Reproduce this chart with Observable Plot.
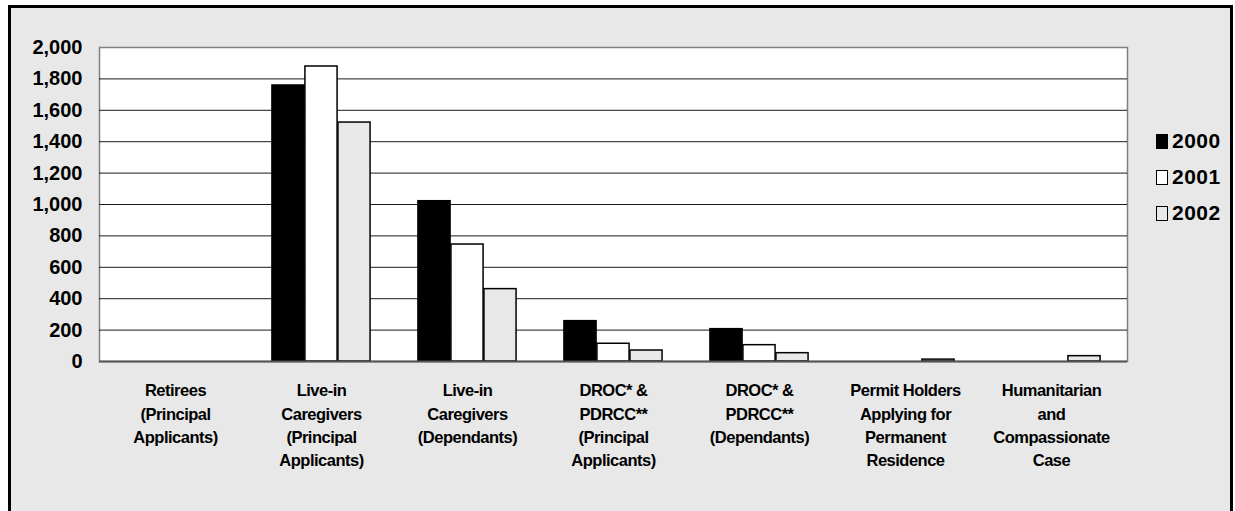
<!DOCTYPE html>
<html><head><meta charset="utf-8">
<script src="https://cdn.jsdelivr.net/npm/d3@7"></script>
<script src="https://cdn.jsdelivr.net/npm/@observablehq/plot@0.6"></script>
<style>
body{margin:0;background:#fff;font-family:"Liberation Sans",Arial,sans-serif;}
#wrap{position:relative;width:1235px;height:511px;overflow:hidden;}
#frame{position:absolute;left:8px;top:5px;width:1225px;height:560px;border:3px solid #000;box-sizing:border-box;background:#e8e8e8;}
#chart{position:absolute;left:0;top:0;}
#legend{position:absolute;left:1156px;top:127px;}
.item{position:relative;height:36px;}
.sw{position:absolute;left:0;top:7px;width:10px;height:13px;border:1px solid #000;}
.lab{position:absolute;left:16px;top:0;font-size:21px;font-weight:bold;letter-spacing:0.5px;line-height:27px;color:#000;}
svg g[aria-label="x-axis tick label"]{letter-spacing:-0.5px;}
</style></head>
<body>
<div id="wrap"><div id="frame"></div><div id="chart"></div><div id="legend"></div></div>
<script>
const categories = ["Retirees (PA)", "Live-in Caregivers (PA)", "Live-in Caregivers (Dep)", "DROC & PDRCC (PA)", "DROC & PDRCC (Dep)", "Permit Holders", "Humanitarian"];
const categoryLabels = [
  "Retirees\n(Principal\nApplicants)",
  "Live-in\nCaregivers\n(Principal\nApplicants)",
  "Live-in\nCaregivers\n(Dependants)",
  "DROC* &\nPDRCC**\n(Principal\nApplicants)",
  "DROC* &\nPDRCC**\n(Dependants)",
  "Permit Holders\nApplying for\nPermanent\nResidence",
  "Humanitarian\nand\nCompassionate\nCase"
];
const years = ["2000", "2001", "2002"];
const values2000 = [0, 1758, 1021, 257, 206, 0, 0];
const values2001 = [0, 1879, 745, 113, 104, 0, 0];
const values2002 = [0, 1522, 461, 70, 53, 12, 34];
const yTicks = [0, 200, 400, 600, 800, 1000, 1200, 1400, 1600, 1800, 2000];
const fills = ["#000000", "#ffffff", "#e8e8e8"];

const series = [values2000, values2001, values2002];
const rows = [];
years.forEach((yr, i) => categories.forEach((c, j) => rows.push({year: yr, category: c, value: series[i][j]})));

const W = 1235, H = 511, mL = 99, mR = 108, mT = 47, mB = 150;
const band = (W - mL - mR) / categories.length;
const barW = 33;
const outer = (band - years.length * barW) / 2;

const chart = Plot.plot({
  width: W, height: H,
  marginLeft: mL, marginRight: mR, marginTop: mT, marginBottom: mB,
  style: {background: "transparent", fontFamily: "'Liberation Sans', Arial, sans-serif", color: "#000"},
  x: {domain: categories, padding: 0, axis: null},
  y: {domain: [0, 2000], axis: null},
  marks: [
    Plot.frame({fill: "white", stroke: "#808080", strokeWidth: 1.5}),
    Plot.ruleY(yTicks.filter(t => t > 0 && t < 2000), {stroke: "#1a1a1a", strokeWidth: 1}),
    ...years.map((yr, i) => Plot.barY(rows.filter(d => d.year === yr && d.value > 0), {
      x: "category", y: "value", fill: fills[i], stroke: "#000", strokeWidth: 1.5,
      insetLeft: outer + i * barW, insetRight: band - outer - (i + 1) * barW
    })),
    Plot.ruleY([0], {stroke: "#555", strokeWidth: 2}),
    Plot.axisY({ticks: yTicks, tickSize: 0, tickPadding: 17, tickFormat: d3.format(","), fontSize: 20, fontWeight: "bold", label: null}),
    Plot.axisX({tickSize: 0, tickPadding: 18, tickFormat: d => categoryLabels[categories.indexOf(d)], fontSize: 16.5, fontWeight: "bold", lineHeight: 1.42, label: null})
  ]
});
document.getElementById("chart").appendChild(chart);

const legend = document.getElementById("legend");
years.forEach((yr, i) => {
  const it = document.createElement("div");
  it.className = "item";
  it.innerHTML = `<div class="sw" style="background:${fills[i]}"></div><div class="lab">${yr}</div>`;
  legend.appendChild(it);
});
</script>
</body></html>
